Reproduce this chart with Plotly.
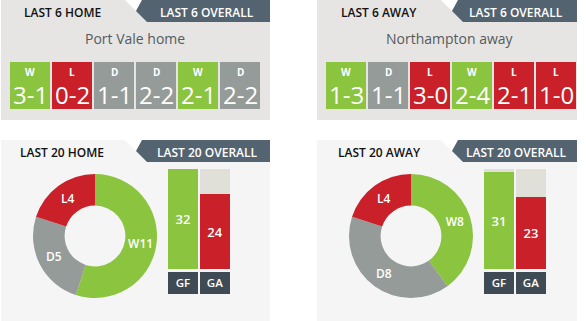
import plotly.graph_objects as go

W, H = 586, 321

# ---------------- data ----------------
home_team = "Port Vale home"
away_team = "Northampton away"
home_results = ["W", "L", "D", "D", "W", "D"]
home_scores = ["3-1", "0-2", "1-1", "2-2", "2-1", "2-2"]
away_results = ["W", "D", "L", "W", "L", "L"]
away_scores = ["1-3", "1-1", "3-0", "2-4", "2-1", "1-0"]

wdl_labels = ["W", "D", "L"]
home20_wdl = [11, 5, 4]
away20_wdl = [8, 8, 4]

goal_labels = ["GF", "GA"]
home20_goals = [32, 24]
away20_goals = [31, 23]
goal_scale_max = 32

# ---------------- style ----------------
GREEN = "#8bc43f"
RED = "#c9202a"
GREY = "#959b98"
DARK_TAB = "#546370"
DARK_BOX = "#3e4a54"
TRACK = "#e0dfd8"
PANEL_TOP = "#e6e5e3"
PANEL_BOT = "#f5f5f5"
RES_COLOR = {"W": GREEN, "D": GREY, "L": RED}
FONT = "Open Sans"


def px(x):
    return x / W


def py(y):
    return 1 - y / H


fig = go.Figure()

# ---- form cells (bars) ----
form_sets = [
    (home_results, home_scores, "x", "y"),
    (away_results, away_scores, "x2", "y2"),
]
annotations = []
for res, sc, xa, ya in form_sets:
    idx = list(range(len(res)))
    fig.add_trace(go.Bar(
        x=idx, y=[1] * len(res), width=40 / 42,
        marker=dict(color=[RES_COLOR[r] for r in res], line=dict(width=0)),
        xaxis=xa, yaxis=ya, hoverinfo="skip",
    ))
    for i, (r, s) in enumerate(zip(res, sc)):
        annotations.append(dict(x=i, y=0.79, xref=xa, yref=ya, text=r, showarrow=False,
                                borderpad=0,
                                font=dict(family=FONT, size=10, color="white", weight="bold")))
        annotations.append(dict(x=i, y=0.30, xref=xa, yref=ya, text=s, showarrow=False,
                                borderpad=0,
                                font=dict(family=FONT, size=24, color="white")))

# ---- donuts ----
for vals, (cx, cy) in [(home20_wdl, (95, 236)), (away20_wdl, (411, 236))]:
    r = 62
    fig.add_trace(go.Pie(
        labels=wdl_labels, values=vals,
        text=[f"{l}{v}" for l, v in zip(wdl_labels, vals)],
        textinfo="text", textposition="inside", insidetextorientation="horizontal",
        textfont=dict(family=FONT, size=12, color="white", weight=600),
        marker=dict(colors=[RES_COLOR[l] for l in wdl_labels], line=dict(width=0)),
        hole=0.49, sort=False, direction="clockwise", rotation=0,
        domain=dict(x=[px(cx - r), px(cx + r)], y=[py(cy + r), py(cy - r)]),
        hoverinfo="skip", showlegend=False,
    ))

# ---- goal bars ----
for goals, xa, ya, xb, yb in [(home20_goals, "x3", "y3", "x4", "y4"),
                              (away20_goals, "x5", "y5", "x6", "y6")]:
    fig.add_trace(go.Bar(
        x=goal_labels, y=[goal_scale_max] * len(goal_labels), width=30 / 32,
        marker=dict(color=TRACK, line=dict(width=0)), xaxis=xa, yaxis=ya, hoverinfo="skip",
    ))
    fig.add_trace(go.Bar(
        x=goal_labels, y=goals, width=30 / 32, text=[str(g) for g in goals],
        textposition="inside", insidetextanchor="middle", textangle=0,
        textfont=dict(family=FONT, size=13, color="white", weight=600),
        marker=dict(color=[GREEN, RED], line=dict(width=0)), xaxis=xa, yaxis=ya, hoverinfo="skip",
    ))
    fig.add_trace(go.Bar(
        x=goal_labels, y=[1] * len(goal_labels), width=30 / 32, text=goal_labels,
        textposition="inside", insidetextanchor="middle", textangle=0,
        textfont=dict(family=FONT, size=13, color="white", weight=600),
        marker=dict(color=DARK_BOX, line=dict(width=0)), xaxis=xb, yaxis=yb, hoverinfo="skip",
    ))

# ---- axes ----
hidden = dict(visible=False, showgrid=False, zeroline=False, fixedrange=True)
layout_axes = {}
layout_axes["xaxis"] = dict(hidden, domain=[px(9), px(261)], range=[-0.5, 5.5])
layout_axes["yaxis"] = dict(hidden, domain=[py(109), py(62)], range=[0, 1])
layout_axes["xaxis2"] = dict(hidden, domain=[px(325), px(577)], range=[-0.5, 5.5])
layout_axes["yaxis2"] = dict(hidden, domain=[py(109), py(62)], range=[0, 1])
layout_axes["xaxis3"] = dict(hidden, domain=[px(167), px(231)], range=[-0.5, 1.5])
layout_axes["yaxis3"] = dict(hidden, domain=[py(269), py(169)], range=[0, goal_scale_max])
layout_axes["xaxis4"] = dict(hidden, domain=[px(167), px(231)], range=[-0.5, 1.5])
layout_axes["yaxis4"] = dict(hidden, domain=[py(294), py(272)], range=[0, 1])
layout_axes["xaxis5"] = dict(hidden, domain=[px(483), px(547)], range=[-0.5, 1.5])
layout_axes["yaxis5"] = dict(hidden, domain=[py(269), py(169)], range=[0, goal_scale_max])
layout_axes["xaxis6"] = dict(hidden, domain=[px(483), px(547)], range=[-0.5, 1.5])
layout_axes["yaxis6"] = dict(hidden, domain=[py(294), py(272)], range=[0, 1])
for k in ["yaxis", "yaxis2", "yaxis3", "yaxis4", "yaxis5", "yaxis6"]:
    layout_axes[k]["anchor"] = "x" + k[5:]
for k in ["xaxis", "xaxis2", "xaxis3", "xaxis4", "xaxis5", "xaxis6"]:
    layout_axes[k]["anchor"] = "y" + k[5:]

# ---- decoration shapes ----
shapes = []


def rect(x0, y0, x1, y1, color):
    shapes.append(dict(type="rect", xref="paper", yref="paper", x0=px(x0), x1=px(x1),
                       y0=py(y1), y1=py(y0), fillcolor=color, line=dict(width=0), layer="below"))


def poly(pts, color):
    d = "M " + " L ".join(f"{px(a)},{py(b)}" for a, b in pts) + " Z"
    shapes.append(dict(type="path", xref="paper", yref="paper", path=d,
                       fillcolor=color, line=dict(width=0), layer="below"))


for (x0, x1, y0, y1, col) in [(1, 270, 0, 120, PANEL_TOP), (317, 577, 0, 120, PANEL_TOP),
                              (1, 270, 140, 321, PANEL_BOT), (317, 577, 140, 321, PANEL_BOT)]:
    rect(x0, y0, x1, y1, col)
    tl = x0 + 124
    poly([(tl, y0), (tl + 17, y0), (tl + 11, y0 + 11)], "white")
    poly([(tl + 17, y0), (x1, y0), (x1, y0 + 22), (tl + 22, y0 + 22), (tl + 11, y0 + 11)], DARK_TAB)


# ---- text ----
def txt(x, y, s, size, color, weight="normal"):
    annotations.append(dict(x=px(x), y=py(y), xref="paper", yref="paper", text=s, showarrow=False,
                            xanchor="center", yanchor="middle",
                            font=dict(family=FONT, size=size, color=color, weight=weight)))


txt(62, 12, "LAST 6 HOME", 12, "#111111", 600)
txt(207, 12, "LAST 6 OVERALL", 12, "white", 600)
txt(379, 12, "LAST 6 AWAY", 12, "#111111", 600)
txt(516, 12, "LAST 6 OVERALL", 12, "white", 600)
txt(135, 38, home_team, 14, "#555a5e")
txt(450, 38, away_team, 14, "#555a5e")
txt(62, 152, "LAST 20 HOME", 12, "#111111", 600)
txt(207, 152, "LAST 20 OVERALL", 12, "white", 600)
txt(379, 152, "LAST 20 AWAY", 12, "#111111", 600)
txt(516, 152, "LAST 20 OVERALL", 12, "white", 600)

fig.update_layout(
    width=W, height=H, margin=dict(l=0, r=0, t=0, b=0),
    paper_bgcolor="white", plot_bgcolor="rgba(0,0,0,0)",
    showlegend=False, barmode="overlay", bargap=0,
    shapes=shapes, annotations=annotations, **layout_axes,
)

fig.write_html("out.html", config={"displayModeBar": False})
